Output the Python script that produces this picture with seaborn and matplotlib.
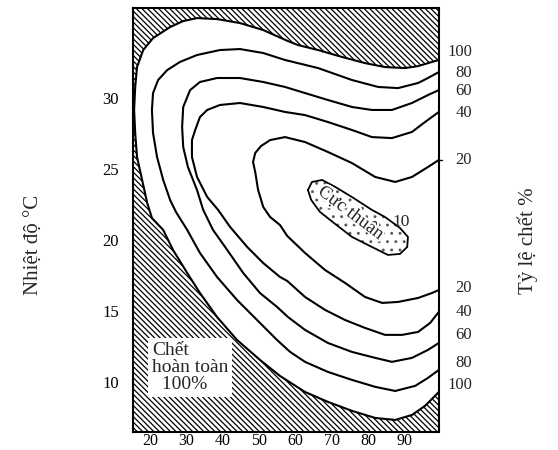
import numpy as np
import pandas as pd
import matplotlib.pyplot as plt
import matplotlib.patheffects as pe
import matplotlib.transforms as mtransforms
import seaborn as sns

# ---- du lieu doc tu hinh: do am (%) va nhiet do (oC) ----
x_ticks = [20, 30, 40, 50, 60, 70, 80, 90]
y_ticks = [10, 15, 20, 25, 30]

# duong 100% (bien vung chet hoan toan)
x100 = [99.5, 97.6, 93.8, 90.2, 84.7, 79.2, 72.9, 66.3, 60.8, 58.0, 51.2, 44.8, 38.5, 33.0,
        29.2, 25.6, 20.9, 18.2, 16.5, 16.0, 15.7, 16.0, 16.5, 17.9, 19.3, 20.6, 23.7, 26.4,
        30.3, 33.8, 38.5, 44.0, 50.3, 55.8, 62.7, 69.0, 75.6, 82.0, 87.5, 92.1, 95.7, 99.5]
y100 = [32.68, 32.54, 32.25, 32.11, 32.18, 32.46, 32.89, 33.38, 33.73, 34.01, 34.79, 35.28,
        35.56, 35.63, 35.42, 35.00, 34.22, 33.38, 32.18, 30.78, 29.16, 27.54, 25.85, 24.23,
        22.61, 21.55, 20.71, 19.30, 17.68, 16.27, 14.58, 12.96, 11.56, 10.43, 9.30, 8.60,
        7.97, 7.47, 7.33, 7.68, 8.32, 9.30]

x80 = [99.5, 96.5, 93.8, 88.3, 82.8, 75.6, 66.3, 57.2, 51.2, 44.8, 39.3, 33.0, 28.3, 24.8,
       22.3, 20.9, 20.6, 20.9, 22.0, 23.7, 25.6, 27.2, 30.3, 33.8, 38.5, 44.0, 49.5, 55.0,
       58.6, 62.7, 69.0, 75.6, 82.0, 87.5, 93.0, 96.5, 99.5]
y80 = [31.83, 31.41, 31.06, 30.70, 30.78, 31.27, 32.11, 32.68, 33.17, 33.45, 33.38, 33.03,
       32.54, 31.97, 31.27, 30.35, 29.16, 27.54, 25.85, 24.23, 22.82, 21.98, 20.71, 19.09,
       17.40, 15.78, 14.37, 12.96, 12.12, 11.42, 10.71, 10.15, 9.66, 9.37, 9.73, 10.29, 10.85]

x60 = [99.5, 96.5, 92.1, 86.6, 81.1, 75.6, 69.0, 62.7, 57.2, 51.2, 44.8, 38.5, 33.8, 31.1,
       29.2, 28.9, 29.2, 30.5, 33.0, 34.7, 37.4, 41.3, 45.7, 50.3, 55.0, 58.0, 62.7, 69.0,
       75.6, 82.0, 86.6, 92.1, 96.5, 99.5]
y60 = [30.56, 30.21, 29.65, 29.16, 29.16, 29.37, 29.86, 30.35, 30.78, 31.13, 31.41, 31.41,
       31.13, 30.56, 29.37, 27.96, 26.55, 25.14, 23.52, 22.12, 20.71, 19.30, 17.68, 16.27,
       15.29, 14.58, 13.67, 12.75, 12.12, 11.70, 11.42, 11.70, 12.26, 12.75]

x40 = [99.5, 95.7, 92.1, 86.6, 81.1, 75.6, 69.0, 62.7, 57.2, 51.2, 44.8, 39.3, 35.8, 33.8,
       32.5, 31.6, 31.6, 33.0, 35.8, 38.8, 42.1, 46.8, 51.2, 55.8, 57.8, 62.7, 68.2, 73.7,
       79.2, 84.7, 89.4, 93.8, 97.1, 99.5]
y40 = [29.02, 28.31, 27.61, 27.18, 27.25, 27.75, 28.31, 28.80, 29.02, 29.37, 29.65, 29.51,
       29.16, 28.66, 27.75, 27.04, 25.85, 24.44, 23.03, 22.12, 20.92, 19.51, 18.38, 17.40,
       17.12, 15.99, 15.08, 14.37, 13.81, 13.32, 13.32, 13.53, 14.16, 14.94]

x20 = [99.5, 96.5, 92.1, 87.5, 82.0, 75.6, 69.0, 62.7, 57.2, 53.1, 50.6, 49.0, 48.4, 49.0,
       49.8, 51.2, 53.1, 55.8, 57.8, 62.7, 68.2, 73.7, 79.2, 83.9, 88.3, 93.8, 97.6, 99.5]
y20 = [25.64, 25.14, 24.44, 24.09, 24.44, 25.42, 26.20, 26.90, 27.25, 27.04, 26.62, 26.13,
       25.50, 24.79, 23.52, 22.33, 21.62, 21.06, 20.29, 19.09, 17.89, 16.98, 15.99, 15.57,
       15.64, 15.92, 16.27, 16.48]

# vung cuc thuan (duong 10%)
x10 = [63.5, 64.6, 67.4, 71.0, 75.6, 81.1, 84.7, 88.8, 91.0, 90.8, 88.8, 85.5, 81.1, 75.6,
       71.0, 66.8, 64.4, 63.5]
y10 = [23.52, 24.09, 24.23, 23.74, 23.03, 22.12, 21.62, 20.85, 20.22, 19.51, 19.02, 18.95,
       19.51, 20.22, 21.13, 21.98, 22.82, 23.52]

# nhan ty le chet o bien phai
nhan_tren = ['100', '80', '60', '40', '20']
t_tren = [33.24, 31.76, 30.49, 28.94, 25.64]
nhan_duoi = ['20', '40', '60', '80', '100']
t_duoi = [16.62, 14.94, 13.32, 11.34, 9.80]

duong = {100: (x100, y100), 80: (x80, y80), 60: (x60, y60), 40: (x40, y40), 20: (x20, y20)}

# ---- ve ----
sns.set_theme(style='white')
plt.rcParams['font.family'] = ['Liberation Serif', 'DejaVu Serif']
plt.rcParams['hatch.linewidth'] = 0.9

fig = plt.figure(figsize=(5.58, 4.5), dpi=100)
ax = fig.add_axes([0.2384, 0.04, 0.5484, 0.9422])
xmin, xmax, ymin, ymax = 15.4, 99.55, 6.48, 36.34
ax.set_xlim(xmin, xmax)
ax.set_ylim(ymin, ymax)

# vung gach cheo ngoai duong 100%
hx = x100 + [xmax, xmax, xmin, xmin, xmax]
hy = y100 + [y100[-1], ymin, ymin, ymax, ymax]
ax.fill(hx, hy, facecolor='white', edgecolor='black', hatch='\\\\\\\\\\\\', linewidth=0)

# vung cuc thuan cham
ax.fill(x10, y10, facecolor='white', edgecolor='0.35', hatch='..', linewidth=0)

for muc, (xs, ys) in duong.items():
    df = pd.DataFrame({'x': xs, 'y': ys})
    sns.lineplot(data=df, x='x', y='y', sort=False, estimator=None, color='black',
                 linewidth=1.5, ax=ax)
sns.lineplot(x=x10, y=y10, sort=False, estimator=None, color='black', linewidth=1.3, ax=ax)

# duong vach nho o bien phai canh nhan 20
sns.lineplot(x=[99.0, 100.4], y=[25.64, 25.64], color='black', linewidth=1.0, ax=ax)
ax.lines[-1].set_clip_on(False)

ax.set_xlabel('')
ax.set_ylabel('')
ax.set_xticks(x_ticks)
ax.set_yticks(y_ticks)
ax.tick_params(axis='both', length=0, labelsize=12, colors='black')
ax.tick_params(axis='x', labelsize=11.5, pad=1)
ax.tick_params(axis='y', pad=10)
for s in ax.spines.values():
    s.set_color('black')
    s.set_linewidth(1.5)

trans = mtransforms.blended_transform_factory(ax.transAxes, ax.transData)
for lab, t in zip(nhan_tren + nhan_duoi, t_tren + t_duoi):
    ax.text(1.108, t, lab, transform=trans, ha='right', va='center', fontsize=12)

ax.text(75.3, 21.9, 'Cực thuận', rotation=-37, ha='center', va='center', fontsize=13.5,
        path_effects=[pe.withStroke(linewidth=3, foreground='white')])
ax.text(89.0, 21.3, '10', ha='center', va='center', fontsize=12.5)

ax.text(20.6, 12.8, 'Chết\nhoàn toàn\n  100%', ha='left', va='top', fontsize=14,
        linespacing=1.0, bbox=dict(facecolor='white', edgecolor='none', pad=3))

fig.text(0.062, 0.456, 'Nhiệt độ °C', rotation=90, ha='center', va='center', fontsize=15)
fig.text(0.945, 0.466, 'Tỷ lệ chết %', rotation=90, ha='center', va='center', fontsize=15)

fig.savefig('out.png', dpi=100)
